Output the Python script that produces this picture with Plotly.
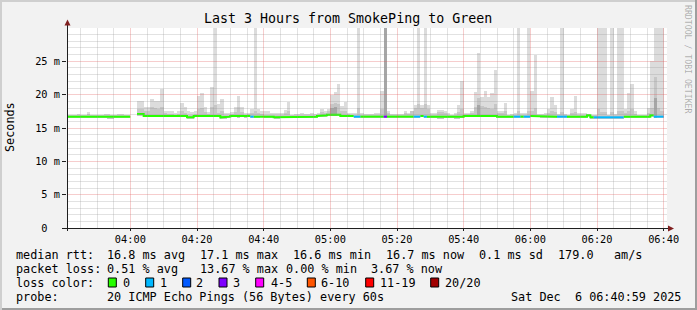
import plotly.graph_objects as go

# ---------------- data (one value per minute, 03:41 .. 06:40) ----------------
median_ms = [
 16.7,16.7,16.7,16.7,16.7,16.7,16.7,16.7,16.7,16.7,
 16.7,16.7,16.6,16.6,16.7,16.7,16.7,16.7,16.7,None,
 None,17.1,17.1,16.8,16.8,16.8,16.9,16.9,16.9,16.8,
 16.8,16.8,16.8,16.8,16.8,16.8,16.6,16.6,16.8,16.8,
 16.8,16.9,16.8,16.8,16.8,16.8,16.6,16.6,16.7,16.8,
 16.8,16.7,16.8,16.7,16.8,16.7,16.7,16.7,16.8,16.7,
 16.7,16.7,16.6,16.6,16.7,16.7,16.7,16.7,16.7,16.7,
 16.7,16.7,16.7,16.7,16.7,16.8,16.8,16.9,17.0,17.0,
 17.0,17.0,16.8,16.8,16.8,16.8,16.7,16.7,16.7,16.7,
 16.7,16.7,16.7,16.7,16.7,16.7,16.7,16.7,16.7,16.7,
 16.7,16.7,16.7,16.7,16.7,16.7,16.8,16.7,16.7,16.7,
 16.7,16.6,16.6,16.7,16.7,16.7,16.6,16.6,16.7,16.8,
 16.9,16.9,16.9,16.9,16.8,16.8,16.8,16.8,16.8,16.7,
 16.7,16.7,16.7,16.7,16.7,16.7,16.7,16.7,16.7,16.8,
 16.8,16.8,16.7,16.7,16.7,16.7,16.7,16.7,16.7,16.7,
 16.7,16.7,16.7,16.7,16.7,16.7,16.9,16.6,16.6,16.6,
 16.6,16.6,16.6,16.6,16.6,16.6,16.6,16.7,16.7,16.7,
 16.7,16.7,16.7,16.7,16.7,16.9,16.7,16.7,16.7,None]

loss_count = [
 0,0,0,0,0,0,0,0,0,0, 0,0,0,0,0,0,0,0,0,0,
 0,0,0,0,0,0,0,0,0,0, 0,0,0,0,0,0,0,0,0,0,
 0,0,0,0,0,0,0,0,0,0, 0,0,0,0,0,1,0,0,0,0,
 0,0,0,0,0,0,0,0,0,0, 0,0,0,0,0,0,0,0,0,0,
 0,0,0,0,0,0,1,1,0,0, 0,0,0,0,0,3,0,0,0,0,
 0,0,0,0,1,1,0,1,0,0, 0,0,0,0,0,0,0,0,0,0,
 0,0,0,0,0,0,0,0,0,0, 0,0,0,0,1,1,0,1,1,0,
 0,0,0,0,0,0,0,1,1,1, 0,0,0,0,0,0,0,0,1,1,
 1,1,1,1,1,1,1,0,0,0, 0,0,0,0,0,0,1,1,1,0]

smoke_min = [
 16.5,16.5,16.5,16.5,16.5,16.5,16.5,16.5,16.5,16.5,
 16.5,16.5,16.4,16.4,16.5,16.5,16.5,16.5,16.5,None,
 None,16.8,16.8,16.6,16.6,16.6,16.7,16.7,16.7,16.6,
 16.6,16.6,16.6,16.6,16.6,16.6,16.4,16.4,16.6,16.6,
 16.6,16.7,16.6,16.6,16.6,16.6,16.4,16.4,16.5,16.6,
 16.6,16.5,16.6,16.5,16.6,16.5,16.5,16.5,16.6,16.5,
 16.5,16.5,16.4,16.4,16.5,16.5,16.5,16.5,16.5,16.5,
 16.5,16.5,16.5,16.5,16.5,16.6,16.6,16.7,16.8,16.8,
 16.8,16.8,16.6,16.6,16.6,16.6,16.5,16.5,16.5,16.5,
 16.5,16.5,16.5,16.5,16.5,16.5,16.5,16.5,16.5,16.5,
 16.5,16.5,16.5,16.5,16.5,16.5,16.6,16.5,16.5,16.5,
 16.5,16.4,16.4,16.5,16.5,16.5,16.4,16.4,16.5,16.6,
 16.7,16.7,16.7,16.7,16.6,16.6,16.6,16.6,16.6,16.5,
 16.5,16.5,16.5,16.5,16.5,16.5,16.5,16.5,16.5,16.6,
 16.6,16.6,16.5,16.5,16.5,16.5,16.5,16.5,16.5,16.5,
 16.5,16.5,16.5,16.5,16.5,16.5,16.7,16.4,16.4,16.4,
 16.4,16.4,16.4,16.4,16.4,16.4,16.4,16.5,16.5,16.5,
 16.5,16.5,16.5,16.5,16.5,16.7,16.5,16.5,16.5,None]

smoke_max = [
 17.0,17.0,17.0,17.1,17.0,17.0,17.4,17.0,17.0,17.0,
 17.0,17.1,17.1,17.0,17.0,17.1,17.1,17.0,17.0,None,
 None,19.0,19.0,18.2,18.2,19.3,19.0,19.0,20.9,17.6,
 17.5,17.5,17.3,17.5,18.7,18.1,17.5,17.4,17.5,19.8,
 20.2,18.1,17.4,21.1,32.0,18.6,19.3,17.3,17.3,17.4,
 18.1,19.8,18.1,17.3,17.3,17.8,32.0,17.8,17.5,17.5,
 17.5,17.2,17.2,17.2,17.3,17.7,18.9,17.0,17.1,17.1,
 17.3,17.1,17.1,17.2,17.1,17.2,17.9,17.5,17.9,20.0,
 20.4,21.6,18.3,18.9,17.3,17.2,17.2,32.0,17.2,17.1,
 17.1,17.1,17.2,17.3,20.5,32.0,17.5,17.1,17.1,17.1,
 17.1,17.6,17.3,17.3,18.5,32.0,18.4,32.0,18.4,17.2,
 17.2,17.7,17.7,17.5,17.2,17.0,17.2,18.5,22.0,17.3,
 17.3,17.5,20.4,26.2,19.6,20.5,19.6,20.2,23.7,17.5,
 17.6,18.8,17.0,17.1,17.2,32.0,17.2,17.2,32.0,20.5,
 26.0,17.1,17.1,17.2,17.8,19.6,18.5,17.1,32.0,17.1,
 17.0,17.8,19.8,17.2,17.2,17.2,17.0,17.0,17.0,32.0,
 32.0,32.0,17.0,32.0,17.1,32.0,32.0,17.8,20.2,21.6,
 17.5,17.0,17.0,17.0,18.0,25.0,32.0,32.0,32.0,None]

smoke_mid = [
 16.9,16.9,16.9,16.9,16.9,16.9,17.1,16.9,16.9,16.9,
 16.9,16.9,16.9,16.9,16.9,16.9,16.9,16.9,16.9,None,
 None,17.8,17.9,17.6,17.6,18.2,18.0,17.9,18.2,17.2,
 17.1,17.1,17.0,17.1,17.6,17.3,17.0,17.0,17.1,17.8,
 18.0,17.4,17.1,18.2,18.5,17.3,17.6,17.0,17.0,17.1,
 17.4,18.2,17.4,17.0,17.1,17.2,17.6,17.2,17.1,17.0,
 17.0,16.9,16.9,16.9,17.0,17.2,17.6,16.9,16.9,16.9,
 17.0,16.9,16.9,17.0,16.9,17.0,17.4,17.3,17.6,18.6,
 18.8,18.6,17.6,17.6,17.1,17.0,17.0,18.0,17.0,16.9,
 16.9,16.9,17.0,17.0,17.8,32.0,17.2,16.9,16.9,16.9,
 16.9,17.3,17.1,17.6,18.0,18.6,18.0,18.6,17.8,17.0,
 17.0,17.4,17.4,17.2,17.0,16.9,17.0,17.4,17.8,17.1,
 17.1,17.2,18.2,19.5,18.3,18.2,18.0,17.8,18.6,17.2,
 17.2,17.6,16.9,16.9,17.0,17.6,17.0,17.0,17.6,17.6,
 18.0,16.9,16.9,17.0,17.2,17.6,17.4,16.9,17.4,16.9,
 16.9,17.2,17.4,17.0,17.0,17.0,17.1,16.9,16.9,17.8,
 17.4,17.4,16.9,17.4,16.9,17.5,17.5,17.2,17.6,17.8,
 17.1,16.9,16.9,16.9,17.2,18.0,22.7,18.0,17.6,None]

dark_idx = [79, 80, 95, 123, 176]
dark_top = [18.0, 18.1, 32.0, 18.4, 19.5]

x_tick_pos = [19, 39, 59, 79, 99, 119, 139, 159, 179]
x_tick_labels = ["04:00", "04:20", "04:40", "05:00", "05:20", "05:40", "06:00", "06:20", "06:40"]
x_minor_pos = [4, 9, 14, 24, 29, 34, 44, 49, 54, 64, 69, 74, 84, 89, 94, 104, 109, 114,
               124, 129, 134, 144, 149, 154, 164, 169, 174]
y_tick_vals = [0, 5, 10, 15, 20, 25]
y_tick_labels = ["0\u00a0\u00a0", "5 m", "10 m", "15 m", "20 m", "25 m"]
y_major_grid = [5, 10, 15, 20, 25]
y_minor_grid = [1, 2, 3, 4, 6, 7, 8, 9, 11, 12, 13, 14, 16, 17, 18, 19, 21, 22, 23, 24, 26, 27, 28, 29]

loss_bins = ["0", "1", "2", "3", "4-5", "6-10", "11-19", "20/20"]
loss_bin_colors = ["#26ff00", "#00b8ff", "#0059ff", "#7e00ff", "#ff00ff", "#ff5500", "#ff0000", "#a10000"]

title_text = "Last 3 Hours from SmokePing to Green"
rtt_row = ["median rtt:", "16.8 ms avg", "17.1 ms max", "16.6 ms min", "16.7 ms now", "0.1 ms sd", "179.0", "am/s"]
loss_row = ["packet loss:", "0.51 % avg", "13.67 % max", "0.00 % min", "3.67 % now"]
probe_row = ["probe:", "20 ICMP Echo Pings (56 Bytes) every 60s"]
stamp_text = "Sat Dec\u00a0\u00a06 06:40:59 2025"

# ---------------- layout geometry ----------------
W, H = 697, 310
L, R, T, B = 67, 30, 28, 82
PW, PH = W - L - R, H - T - B
FONT = "DejaVu Sans Mono"


def px(x):
    return (x - L) / PW


def py(y):
    return (H - B - y) / PH


def bin_of(n):
    if n <= 3:
        return n
    if n <= 5:
        return 4
    if n <= 10:
        return 5
    if n <= 19:
        return 6
    return 7


N = len(median_ms)
xc = [i + 0.5 for i in range(N)]

fig = go.Figure()


def band(top, color):
    ys, bs, xs = [], [], []
    for i in range(N):
        if top[i] is None or smoke_min[i] is None:
            continue
        xs.append(xc[i])
        bs.append(smoke_min[i])
        ys.append(top[i] - smoke_min[i])
    fig.add_trace(go.Bar(x=xs, y=ys, base=bs, width=1.0, marker=dict(color=color, line=dict(width=0)),
                         showlegend=False, hoverinfo="skip"))


band(smoke_max, "#dcdcdc")
band(smoke_mid, "#c6c6c6")
fig.add_trace(go.Bar(x=[xc[i] for i in dark_idx], y=[t - smoke_min[i] for i, t in zip(dark_idx, dark_top)],
                     base=[smoke_min[i] for i in dark_idx], width=1.0,
                     marker=dict(color="#a6a6a6", line=dict(width=0)), showlegend=False, hoverinfo="skip"))

# median line, coloured by loss
for b, col in enumerate(loss_bin_colors):
    xs, ys = [], []
    prev = False
    for i in range(N):
        m = median_ms[i]
        if m is None or bin_of(loss_count[i]) != b:
            prev = False
            continue
        if not prev and xs:
            xs.append(None)
            ys.append(None)
        xs += [i, i + 1]
        ys += [m, m]
        prev = True
    if xs:
        fig.add_trace(go.Scatter(x=xs, y=ys, mode="lines", line=dict(color=col, width=2),
                                 showlegend=False, hoverinfo="skip", connectgaps=False))

# empty subplots whose only job is to draw the grids above the smoke
fig.add_trace(go.Scatter(x=[None], y=[None], xaxis="x2", yaxis="y2", showlegend=False, hoverinfo="skip"))
fig.add_trace(go.Scatter(x=[None], y=[None], xaxis="x3", yaxis="y3", showlegend=False, hoverinfo="skip"))

GRID = "rgba(150,150,150,0.28)"
MGRID = "rgba(226,90,90,0.30)"


def grid_axis(anchor, rng, vals, color):
    return dict(domain=[0, 1], anchor=anchor, range=rng, tickmode="array", tickvals=vals,
                showticklabels=False, ticks="", showline=False, zeroline=False,
                showgrid=True, gridcolor=color, gridwidth=1)


fig.update_layout(
    width=W, height=H,
    margin=dict(l=L, r=R, t=T, b=B, pad=0),
    paper_bgcolor="#f2f2f2",
    plot_bgcolor="rgba(0,0,0,0)",
    barmode="overlay", bargap=0,
    font=dict(family=FONT, color="black"),
    xaxis=dict(range=[0, 180], tickmode="array", tickvals=x_tick_pos, ticktext=x_tick_labels,
               showgrid=False, zeroline=False, showline=False, ticks="outside", ticklen=2,
               tickcolor="#1f1f1f", tickfont=dict(family=FONT, size=10.3, color="black")),
    yaxis=dict(range=[0, 29.999], tickmode="array", tickvals=y_tick_vals, ticktext=y_tick_labels,
               showgrid=False, zeroline=False, showline=False, ticks="outside", ticklen=4,
               tickcolor="#1f1f1f", tickfont=dict(family=FONT, size=10.3, color="black")),
    xaxis2=grid_axis("y2", [0, 180], x_minor_pos, GRID),
    yaxis2=grid_axis("x2", [0, 29.999], y_minor_grid, GRID),
    xaxis3=grid_axis("y3", [0, 180], x_tick_pos, MGRID),
    yaxis3=grid_axis("x3", [0, 29.999], y_major_grid, MGRID),
)

shapes = []
# white canvas
shapes.append(dict(type="rect", xref="paper", yref="paper", x0=0, x1=1, y0=0, y1=1,
                   fillcolor="white", line=dict(width=0), layer="below"))
# 3-D frame
shapes.append(dict(type="rect", xref="paper", yref="paper", x0=px(0), x1=px(W), y0=py(0), y1=py(2),
                   fillcolor="#cfcfcf", line=dict(width=0), layer="above"))
shapes.append(dict(type="rect", xref="paper", yref="paper", x0=px(0), x1=px(2), y0=py(0), y1=py(H),
                   fillcolor="#cfcfcf", line=dict(width=0), layer="above"))
shapes.append(dict(type="rect", xref="paper", yref="paper", x0=px(W - 2), x1=px(W), y0=py(0), y1=py(H),
                   fillcolor="#9e9e9e", line=dict(width=0), layer="above"))
shapes.append(dict(type="rect", xref="paper", yref="paper", x0=px(2), x1=px(W), y0=py(H - 2), y1=py(H),
                   fillcolor="#9e9e9e", line=dict(width=0), layer="above"))
# axis lines
shapes.append(dict(type="line", xref="paper", yref="paper", x0=px(67.5), x1=px(67.5), y0=py(231), y1=py(23),
                   line=dict(color="#1f1f1f", width=1), layer="above"))
shapes.append(dict(type="line", xref="paper", yref="paper", x0=px(63), x1=px(670), y0=py(228.5), y1=py(228.5),
                   line=dict(color="#1f1f1f", width=1), layer="above"))
# arrows
shapes.append(dict(type="path", xref="paper", yref="paper",
                   path=f"M {px(67.5)} {py(19.5)} L {px(70.5)} {py(25.5)} L {px(64.5)} {py(25.5)} Z",
                   fillcolor="#801f1f", line=dict(width=0), layer="above"))
shapes.append(dict(type="path", xref="paper", yref="paper",
                   path=f"M {px(674)} {py(228.5)} L {px(668)} {py(225.5)} L {px(668)} {py(231.5)} Z",
                   fillcolor="#801f1f", line=dict(width=0), layer="above"))

annotations = []


def text(t, x, y, size=11.8, xanchor="left", color="black", angle=0):
    annotations.append(dict(text=t, x=px(x), y=py(y), xref="paper", yref="paper", showarrow=False,
                            xanchor=xanchor, yanchor="middle", textangle=angle, borderpad=0, borderwidth=0,
                            font=dict(family=FONT, size=size, color=color)))


text(title_text, 347.5, 18.5, size=13.3, xanchor="center")
text("Seconds", 10, 127, size=11.8, xanchor="center", angle=-90)
text("RRDTOOL / TOBI OETIKER", 688, 59, size=8.2, xanchor="center", angle=90, color="rgba(0,0,0,0.3)")

rtt_x = [16, 107, 200, 293, 386, 479, 558, 614]
for t, x in zip(rtt_row, rtt_x):
    text(t, x - 0.5, 254.5)
loss_x = [16, 107, 200, 286, 372]
for t, x in zip(loss_row, loss_x):
    text(t, x - 0.5, 268.5)
text("loss color:", 15.5, 282.5)
box_x = [108.3, 145.7, 182.7, 219, 255.7, 307.3, 365.7, 430.7]
label_x = [123.3, 160, 196.7, 233.3, 271, 321.7, 380.7, 445.7]
for lab, col, bx, lx in zip(loss_bins, loss_bin_colors, box_x, label_x):
    shapes.append(dict(type="rect", xref="paper", yref="paper", x0=px(bx), x1=px(bx + 8), y0=py(278),
                       y1=py(287), fillcolor=col, line=dict(color="black", width=1), layer="above"))
    text(lab, lx - 0.5, 282.5)
text(probe_row[0], 15.5, 296.8)
text(probe_row[1], 106.8, 296.8)
text(stamp_text, 681, 296.8, xanchor="right")

fig.update_layout(shapes=shapes, annotations=annotations)
fig.write_html("out.html")
